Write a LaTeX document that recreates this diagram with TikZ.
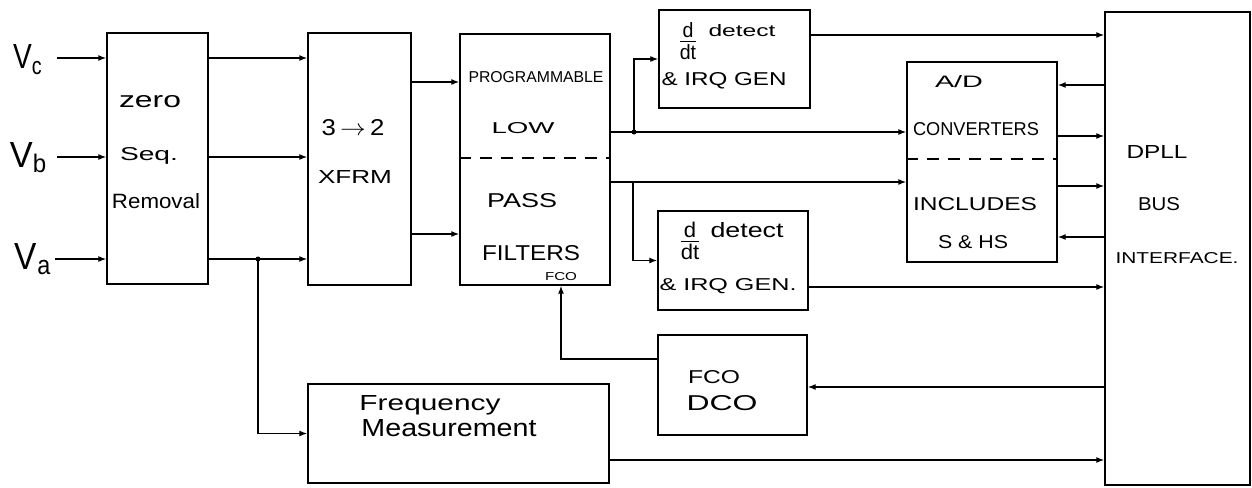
\documentclass[tikz,border=0pt]{standalone}
\usepackage{fontspec}
\setmainfont{Liberation Sans}
\usetikzlibrary{arrows.meta}
\newcommand{\hw}[3]{\resizebox{#1pt}{#2pt}{#3}}
\begin{document}
\begin{tikzpicture}[x=1pt,y=-1pt,
  box/.style={draw,line width=1.4pt,inner sep=0pt},
  lbl/.style={inner sep=0pt,anchor=base},
  wire/.style={line width=1.3pt},
  dashline/.style={line width=1.3pt,dash pattern=on 12pt off 9pt},
  arr/.style={wire,-{Latex[length=8pt,width=6pt]}},
  jdot/.style={circle,fill,inner sep=0pt,minimum size=5pt}]
\useasboundingbox (0,0) rectangle (1252,487);

% boxes
\node[box,minimum width=101pt,minimum height=251pt] (Z) at (157.5,158.5) {};
\node[box,minimum width=103pt,minimum height=252pt] (X) at (359.5,159) {};
\node[box,minimum width=150pt,minimum height=251pt] (F) at (535,159.5) {};
\node[box,minimum width=151pt,minimum height=98pt] (D1) at (734.5,59) {};
\node[box,minimum width=150pt,minimum height=99pt] (D2) at (733,260.5) {};
\node[box,minimum width=150pt,minimum height=200pt] (A) at (982,162) {};
\node[box,minimum width=145pt,minimum height=473pt] (P) at (1177.5,248.5) {};
\node[box,minimum width=149pt,minimum height=100pt] (C) at (732.5,385) {};
\node[box,minimum width=301pt,minimum height=99pt] (M) at (458.5,433.5) {};

% dashed dividers
\coordinate (fd) at (535,158);
\draw[dashline] (F.west |- fd) -- (F.east |- fd);
\coordinate (ad) at (982,159);
\draw[dashline] (A.west |- ad) -- (A.east |- ad);

% input labels
\node[lbl] (Vc) at (28,69) {\hw{30}{24}{V\textsubscript{c}}};
\node[lbl] (Vb) at (29,167) {\hw{38}{25}{V\textsubscript{b}}};
\node[lbl] (Va) at (33.5,269) {\hw{37}{26}{V\textsubscript{a}}};

% texts
\node[lbl] (t1) at (150,107) {\hw{62}{12}{zero}};
\node[lbl] (t2) at (149,160) {\hw{58}{13}{Seq.}};
\node[lbl] (t3) at (156,208) {\hw{88}{15}{Removal}};

\node[lbl] (t4) at (353,135) {\hw{63}{16}{3\,$\rightarrow$\,2}};
\node[lbl] (t5) at (355,183) {\hw{74}{13}{XFRM}};

\node[lbl] (t6) at (536,83) {\hw{135}{11}{PROGRAMMABLE}};
\node[lbl] (t7) at (523,133) {\hw{63}{11}{LOW}};
\node[lbl] (t8) at (522,207) {\hw{70}{14}{PASS}};
\node[lbl] (t9) at (531,260) {\hw{98}{15}{FILTERS}};
\node[lbl] (t10) at (561,280) {\hw{32}{8}{FCO}};

\node[inner sep=0pt] (q1) at (688,41) {\resizebox*{23pt}{37pt}{$\frac{\mathrm{d}}{\mathrm{dt}}$}};
\node[lbl] (t11) at (742,37) {\hw{67}{12}{detect}};
\node[lbl] (t12) at (724,85) {\hw{125}{13}{\& IRQ GEN}};

\node[inner sep=0pt] (q2) at (690,241) {\resizebox*{26pt}{38pt}{$\frac{\mathrm{d}}{\mathrm{dt}}$}};
\node[lbl] (t13) at (747,237) {\hw{73}{15}{detect}};
\node[lbl] (t14) at (728,290) {\hw{137}{12}{\& IRQ GEN.}};

\node[lbl] (t15) at (959,87) {\hw{48}{12}{A/D}};
\node[lbl] (t16) at (976,135) {\hw{126}{13}{CONVERTERS}};
\node[lbl] (t17) at (975,210) {\hw{124}{13}{INCLUDES}};
\node[lbl] (t18) at (973,248) {\hw{70}{13}{S \& HS}};

\node[lbl] (t19) at (1157,158) {\hw{61}{13}{DPLL}};
\node[lbl] (t20) at (1159,210) {\hw{42}{13}{BUS}};
\node[lbl] (t21) at (1177,263) {\hw{123}{11}{INTERFACE.}};

\node[lbl] (t22) at (714,383) {\hw{52}{13}{FCO}};
\node[lbl] (t23) at (722,410) {\hw{71}{15}{DCO}};

\node[lbl] (t24) at (430,410) {\hw{141}{15}{Frequency}};
\node[lbl] (t25) at (449,436) {\hw{175}{17}{Measurement}};

% inputs
\coordinate (vcS) at (57,58);
\coordinate (vbS) at (57,157);
\coordinate (vaS) at (55,259);
\draw[arr] (vcS) -- (vcS -| Z.west);
\draw[arr] (vbS) -- (vbS -| Z.west);
\draw[arr] (vaS) -- (vaS -| Z.west);

% zero seq -> xfrm
\draw[arr] (Z.east |- vcS) -- (X.west |- vcS);
\draw[arr] (Z.east |- vbS) -- (X.west |- vbS);
\draw[arr] (Z.east |- vaS) -- (X.west |- vaS);

% branch to frequency measurement
\coordinate (ja) at (258,259);
\node[jdot] (jad) at (ja) {};
\draw[arr] (ja) |- (M.west);

% xfrm -> filters
\coordinate (x1) at (0,82);
\coordinate (x2) at (0,234);
\draw[arr] (X.east |- x1) -- (F.west |- x1);
\draw[arr] (X.east |- x2) -- (F.west |- x2);

% filters -> A/D and d/dt
\coordinate (j1) at (634,132);
\coordinate (j2) at (633,182);
\draw[arr] (F.east |- j1) -- (A.west |- j1);
\draw[arr] (F.east |- j2) -- (A.west |- j2);
\node[jdot] (j1d) at (j1) {};
\draw[arr] (j1) |- (D1.west);
\draw[arr] (j2) |- (D2.west);

% d/dt -> DPLL
\coordinate (o1) at (0,35);
\coordinate (o2) at (0,287);
\draw[arr] (D1.east |- o1) -- (P.west |- o1);
\draw[arr] (D2.east |- o2) -- (P.west |- o2);

% A/D <-> DPLL
\coordinate (a1) at (0,85);
\coordinate (a2) at (0,136);
\coordinate (a3) at (0,186);
\coordinate (a4) at (0,237);
\draw[arr] (P.west |- a1) -- (A.east |- a1);
\draw[arr] (A.east |- a2) -- (P.west |- a2);
\draw[arr] (A.east |- a3) -- (P.west |- a3);
\draw[arr] (P.west |- a4) -- (A.east |- a4);

% DPLL -> FCO/DCO -> filters
\coordinate (c1) at (0,387);
\draw[arr] (P.west |- c1) -- (C.east |- c1);
\coordinate (cf) at (561,359);
\draw[arr] (C.west |- cf) -- (cf) -- (cf |- F.south);

% frequency measurement -> DPLL
\coordinate (m1) at (0,460);
\draw[arr] (M.east |- m1) -- (P.west |- m1);
\end{tikzpicture}
\end{document}
